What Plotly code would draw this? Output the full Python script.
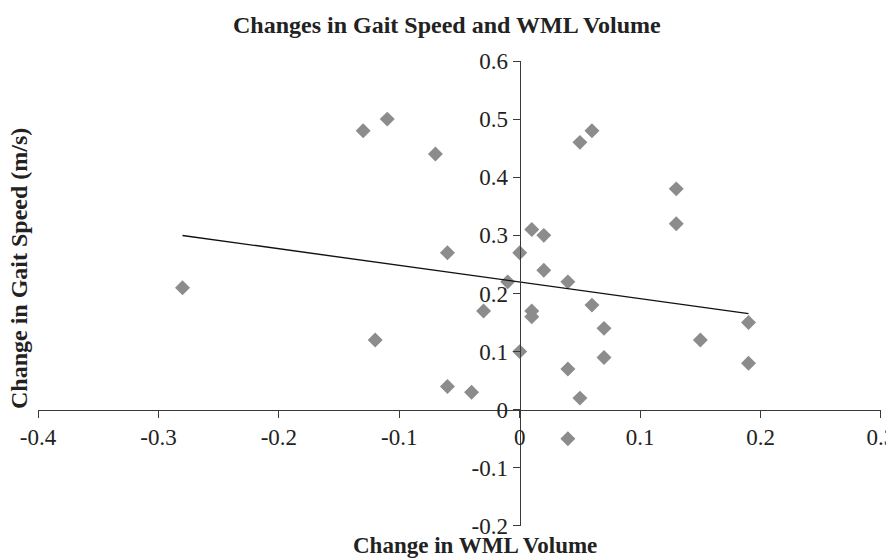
import numpy as np
import plotly.graph_objects as go

# Data
wml_change = [-0.28, -0.13, -0.11, -0.07, -0.06, -0.12, -0.03, -0.06, -0.04, -0.01,
              0.00, 0.00, 0.01, 0.02, 0.02, 0.01, 0.01, 0.04, 0.06, 0.07,
              0.07, 0.04, 0.05, 0.04, 0.05, 0.06, 0.13, 0.13, 0.15, 0.19, 0.19]
gait_change = [0.21, 0.48, 0.50, 0.44, 0.27, 0.12, 0.17, 0.04, 0.03, 0.22,
               0.27, 0.10, 0.31, 0.30, 0.24, 0.17, 0.16, 0.22, 0.18, 0.14,
               0.09, 0.07, 0.02, -0.05, 0.46, 0.48, 0.38, 0.32, 0.12, 0.15, 0.08]

x_tickvals = [-0.4, -0.3, -0.2, -0.1, 0.0, 0.1, 0.2, 0.3]
x_ticktext = ["-0.4", "-0.3", "-0.2", "-0.1", "0", "0.1", "0.2", "0.3"]
y_tickvals = [-0.2, -0.1, 0.0, 0.1, 0.2, 0.3, 0.4, 0.5, 0.6]
y_ticktext = ["-0.2", "-0.1", "0", "0.1", "0.2", "0.3", "0.4", "0.5", "0.6"]

title_text = "Changes in Gait Speed and WML Volume"
x_title = "Change in WML Volume"
y_title = "Change in Gait Speed (m/s)"

x_range = [-0.4, 0.30001]
y_range = [-0.20001, 0.6]

# Linear trendline (least squares), drawn over the data's x extent
xa = np.array(wml_change)
ya = np.array(gait_change)
slope, intercept = np.polyfit(xa, ya, 1)
trend_x = [xa.min(), xa.max()]
trend_y = [slope * v + intercept for v in trend_x]

FONT = "Liberation Serif"
OFF = 8  # page body margin
W, H = 894 - OFF, 560 - OFF
L, R, T, B = 38 - OFF, 13, 61 - OFF, 34
pw, ph = W - L - R, H - T - B

def px_to_paper(px, py):
    # px, py: window pixel coordinates
    return (px - OFF - L) / pw, (H - B - (py - OFF)) / ph

fig = go.Figure()
fig.add_trace(go.Scatter(
    x=wml_change, y=gait_change, mode="markers",
    marker=dict(symbol="diamond", size=11.5, color="#8c8c8c", line=dict(width=0)),
    showlegend=False, hoverinfo="x+y"))
fig.add_trace(go.Scatter(
    x=trend_x, y=trend_y, mode="lines",
    line=dict(color="#111111", width=1.4),
    showlegend=False, hoverinfo="skip"))

# axes cross at the origin
x_pos = (0 - y_range[0]) / (y_range[1] - y_range[0])
y_pos = (0 - x_range[0]) / (x_range[1] - x_range[0])

axis_common = dict(showgrid=False, zeroline=False, showline=True,
                   linecolor="#3a3a3a", linewidth=1.3, ticks="outside",
                   ticklen=7, tickwidth=1.3, tickcolor="#3a3a3a",
                   automargin=False, ticklabeloverflow="allow",
                   tickfont=dict(family=FONT, size=23, color="#222222"))

fig.update_layout(
    width=W, height=H,
    margin=dict(l=L, r=R, t=T, b=B),
    paper_bgcolor="white", plot_bgcolor="white",
    xaxis=dict(range=x_range, tickvals=x_tickvals, ticktext=x_ticktext,
               anchor="free", position=x_pos, **axis_common),
    yaxis=dict(range=y_range, tickvals=y_tickvals, ticktext=y_ticktext,
               anchor="free", position=y_pos, domain=[0, 1], **axis_common),
)

tx, ty = px_to_paper(447, 25)
xx, xy = px_to_paper(475, 545)
yx, yy = px_to_paper(19, 269)
fig.add_annotation(text="<b>%s</b>" % title_text, xref="paper", yref="paper",
                   x=tx, y=ty, xanchor="center", yanchor="middle",
                   showarrow=False, font=dict(family=FONT, size=24, color="#222222"))
fig.add_annotation(text="<b>%s</b>" % x_title, xref="paper", yref="paper",
                   x=xx, y=xy, xanchor="center", yanchor="middle",
                   showarrow=False, font=dict(family=FONT, size=23, color="#222222"))
fig.add_annotation(text="<b>%s</b>" % y_title, xref="paper", yref="paper",
                   x=yx, y=yy, xanchor="center", yanchor="middle",
                   textangle=-90, showarrow=False,
                   font=dict(family=FONT, size=24, color="#222222"))

fig.write_html("out.html")
